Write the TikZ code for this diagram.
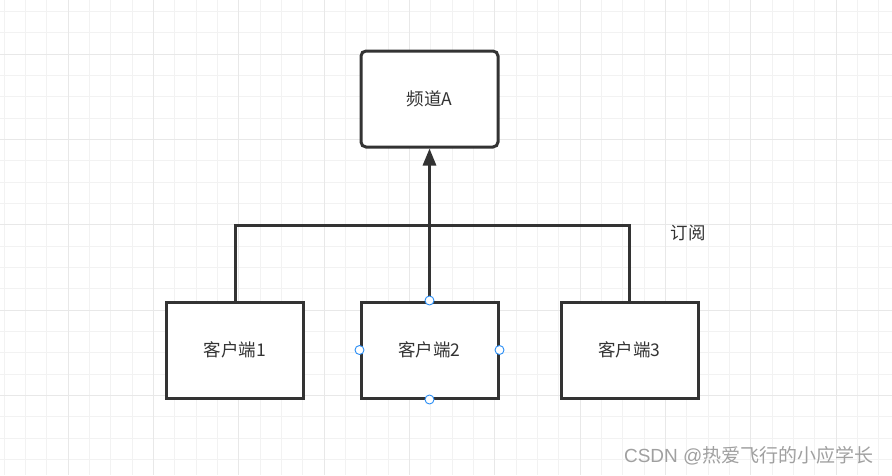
\documentclass[tikz,border=0pt]{standalone}
\usepackage{fontspec}
\setmainfont{Liberation Sans}
\newfontfamily\cjk{Noto Sans CJK SC}
\usetikzlibrary{arrows.meta}
\definecolor{gridminor}{HTML}{F2F2F2}
\definecolor{gridmajor}{HTML}{E8E8E8}
\definecolor{stroke}{HTML}{333333}
\definecolor{handle}{HTML}{2B8EF5}
\definecolor{wm}{HTML}{A0A0A0}
\tikzset{
  box/.style={draw=stroke, line width=3pt, fill=white, minimum width=137pt, minimum height=96pt, inner sep=0pt, font=\cjk\fontsize{17.5}{20}\selectfont, text=stroke},
  rbox/.style={box, rounded corners=5pt},
  conn/.style={draw=stroke, line width=3pt},
  hd/.style={circle, draw=handle, fill=white, line width=0.9pt, minimum size=9pt, inner sep=0pt},
}
\begin{document}
\begin{tikzpicture}[x=1pt,y=-1pt]
\useasboundingbox (0,0) rectangle (892,475);
\fill[white] (0,0) rectangle (892,475);
% grid
\foreach \i in {0,...,42} {
  \pgfmathsetmacro{\xx}{4.1+21.33*\i}
  \draw[gridminor, line width=0.9pt] (\xx,0) -- (\xx,475);
}
\foreach \i in {0,...,22} {
  \pgfmathsetmacro{\yy}{11.4+21.33*\i}
  \draw[gridminor, line width=0.9pt] (0,\yy) -- (892,\yy);
}
\foreach \i in {0,...,10} {
  \pgfmathsetmacro{\xx}{68.1+85.33*\i}
  \draw[gridmajor, line width=1.1pt] (\xx,0) -- (\xx,475);
}
\foreach \i in {0,...,5} {
  \pgfmathsetmacro{\yy}{54.1+85.33*\i}
  \draw[gridmajor, line width=1.1pt] (0,\yy) -- (892,\yy);
}
% nodes
\node[rbox] (ch) at (429.5,99) {频道A};
\node[box] (c1) at (235,350) {客户端1};
\node[box] (c2) at (429.5,350) {客户端2};
\node[box] (c3) at (629.5,350) {客户端3};
\coordinate (jl) at (235,225);
\coordinate (jr) at (629.5,225);
\node[font=\cjk\fontsize{17.5}{20}\selectfont, text=stroke] (sub) at (688,233) {订阅};
% connectors
\draw[conn] (c1.north) -- (jl) -- (jr) -- (c3.north);
\draw[conn, -{Triangle[length=17pt,width=13pt]}] (c2.north) -- (ch.south);
% handles
\node[hd] at (c2.north) {};
\node[hd] at (c2.south) {};
\node[hd] at (c2.west) {};
\node[hd] at (c2.east) {};
% watermark
\node[anchor=east, text=wm, font=\fontsize{19}{22}\selectfont] (wm) at (877,456) {CSDN @{\cjk 热爱飞行的小应学长}};
\end{tikzpicture}
\end{document}
